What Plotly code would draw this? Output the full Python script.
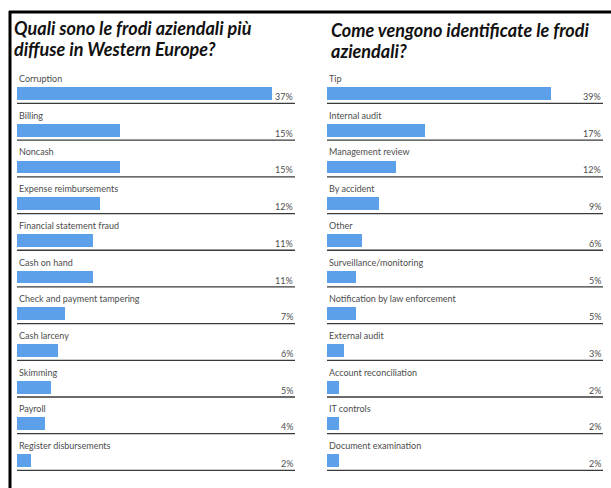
import plotly.graph_objects as go

left_title = ["Quali sono le frodi aziendali più", "diffuse in Western Europe?"]
left_cats = ["Corruption", "Billing", "Noncash", "Expense reimbursements",
             "Financial statement fraud", "Cash on hand", "Check and payment tampering",
             "Cash larceny", "Skimming", "Payroll", "Register disbursements"]
left_vals = [37, 15, 15, 12, 11, 11, 7, 6, 5, 4, 2]

right_title = ["Come vengono identificate le frodi", "aziendali?"]
right_cats = ["Tip", "Internal audit", "Management review", "By accident", "Other",
              "Surveillance/monitoring", "Notification by law enforcement",
              "External audit", "Account reconciliation", "IT controls",
              "Document examination"]
right_vals = [39, 17, 12, 9, 6, 5, 5, 3, 2, 2, 2]

W, H = 611, 488
BAR = "#5ca0ea"
LBL = "#4d4d4d"

fig = go.Figure()
panels = [
    (left_cats, left_vals, "x", "y", 40.3),
    (right_cats, right_vals, "x2", "y2", 48.0),
]
annotations = []
shapes = []
for cats, vals, xa, ya, xmax in panels:
    rows = list(range(len(cats)))
    fig.add_trace(go.Bar(x=vals, y=rows, orientation="h", width=0.35,
                         marker=dict(color=BAR, line=dict(width=0)),
                         xaxis=xa, yaxis=ya, hoverinfo="skip", showlegend=False))
    xd = xa + " domain"
    for i, (c, v) in enumerate(zip(cats, vals)):
        annotations.append(dict(text=c, x=0, xref=xd, y=i, yref=ya, yshift=15,
                                xanchor="left", yanchor="middle", showarrow=False,
                                font=dict(family="Lato", size=9, color=LBL)))
        annotations.append(dict(text=f"{v}%", x=1, xref=xd, y=i, yref=ya, yshift=-3,
                                xanchor="right", yanchor="middle", showarrow=False,
                                font=dict(family="Lato", size=9, color=LBL)))
        shapes.append(dict(type="line", xref=xd, x0=0, x1=1, yref=ya,
                           y0=i + 0.27, y1=i + 0.27,
                           line=dict(color="#3a3a3a", width=1.3)))

def tfont():
    return dict(family="Lato", size=18, color="#111", weight="bold", style="italic")

for k, line in enumerate(left_title):
    annotations.append(dict(text=line, x=12 / W, xref="paper", y=1 - (28 + 21 * k) / H,
                            yref="paper", xanchor="left", yanchor="middle",
                            showarrow=False, font=tfont()))
for k, line in enumerate(right_title):
    annotations.append(dict(text=line, x=329 / W, xref="paper", y=1 - (30 + 21 * k) / H,
                            yref="paper", xanchor="left", yanchor="middle",
                            showarrow=False, font=tfont()))

# scan frame borders
shapes.append(dict(type="line", xref="paper", yref="paper", x0=9 / W, x1=1,
                   y0=1 - 12 / H, y1=1 - 12 / H, line=dict(color="#000", width=3)))
shapes.append(dict(type="line", xref="paper", yref="paper", x0=10 / W, x1=10 / W,
                   y0=0, y1=1 - 11 / H, line=dict(color="#000", width=3)))

yr = [10.75, -2.55]
fig.update_layout(
    width=W, height=H, margin=dict(l=0, r=0, t=0, b=0),
    paper_bgcolor="white", plot_bgcolor="white",
    xaxis=dict(domain=[17 / W, 295 / W], range=[0, 40.3], visible=False, fixedrange=True),
    xaxis2=dict(domain=[327 / W, 603 / W], range=[0, 48.0], visible=False, fixedrange=True),
    yaxis=dict(range=yr, visible=False, anchor="x", fixedrange=True),
    yaxis2=dict(range=yr, visible=False, anchor="x2", fixedrange=True),
    annotations=annotations, shapes=shapes, bargap=0,
)
fig.write_html("out.html")
